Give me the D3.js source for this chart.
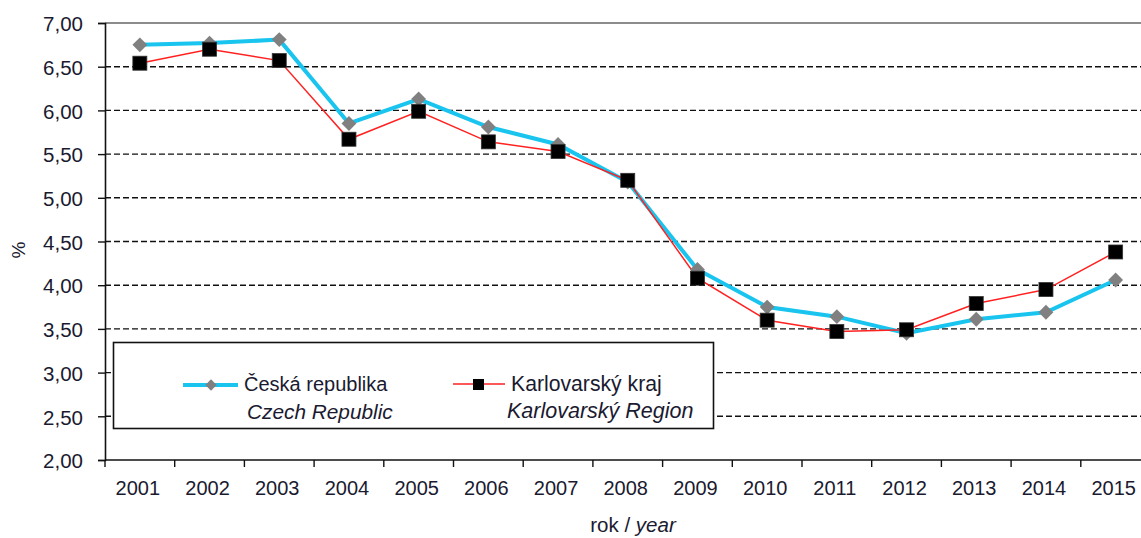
<!DOCTYPE html>
<html><head><meta charset="utf-8">
<script src="https://cdn.jsdelivr.net/npm/d3@7"></script>
<style>body{margin:0;background:#fff}svg{display:block;font-family:"Liberation Sans",Arial,sans-serif}</style>
</head><body><svg id="c" width="1141" height="538"></svg>
<script>
const years = ["2001","2002","2003","2004","2005","2006","2007","2008","2009","2010","2011","2012","2013","2014","2015"];
const czech = [6.75,6.77,6.81,5.85,6.13,5.81,5.61,5.18,4.18,3.75,3.64,3.45,3.61,3.69,4.06];
const karlovy = [6.54,6.70,6.57,5.67,5.99,5.64,5.53,5.20,4.08,3.60,3.47,3.49,3.79,3.95,4.38];
const yTicks = [2.0,2.5,3.0,3.5,4.0,4.5,5.0,5.5,6.0,6.5,7.0];

const svg = d3.select("#c");
const L = 105, R = 1150.5, T = 23, B = 460;
const FONT = "Liberation Sans, Arial, sans-serif";
const TXT = "#1a1a30";
const x = d3.scaleBand().domain(years).range([L, R]);
const y = d3.scaleLinear().domain([2, 7]).range([B, T]);
const fmt = v => d3.format(".2f")(v).replace(".", ",");

// gridlines
svg.append("g").selectAll("line").data(yTicks.filter(v => v > 2 && v < 7)).join("line")
  .attr("x1", L).attr("x2", R).attr("y1", d => y(d)).attr("y2", d => y(d))
  .attr("stroke", "#111").attr("stroke-width", 1.4).attr("stroke-dasharray", "6,3");
// top border
svg.append("line").attr("x1", L).attr("x2", R).attr("y1", T).attr("y2", T).attr("stroke", "#666").attr("stroke-width", 1.4);

// y axis
const ya = svg.append("g").attr("transform", `translate(${L},0)`)
  .call(d3.axisLeft(y).tickValues(yTicks).tickFormat(fmt).tickSize(7).tickPadding(15));
ya.select(".domain").attr("stroke", "#111").attr("stroke-width", 1.6);
ya.selectAll(".tick line").attr("stroke", "#111").attr("stroke-width", 1.4);
ya.selectAll("text").attr("font-size", 20.5).attr("fill", TXT).attr("font-family", FONT).attr("dy", "0.38em");

// x axis
const xa = svg.append("g").attr("transform", `translate(0,${B})`)
  .call(d3.axisBottom(x).tickSize(0).tickPadding(21));
xa.select(".domain").remove();
xa.selectAll("text").attr("font-size", 20).attr("fill", TXT).attr("font-family", FONT).attr("dx", -2);
svg.append("line").attr("x1", L).attr("x2", R).attr("y1", B).attr("y2", B).attr("stroke", "#111").attr("stroke-width", 1.6);
svg.append("g").selectAll("line").data(years).join("line")
  .attr("x1", d => x(d)).attr("x2", d => x(d)).attr("y1", B).attr("y2", B + 7)
  .attr("stroke", "#111").attr("stroke-width", 1.4);

// axis titles
svg.append("text").attr("transform", "translate(25,250) rotate(-90)").attr("text-anchor", "middle")
  .attr("font-size", 19).attr("fill", TXT).text("%");
const xt = svg.append("text").attr("x", 633).attr("y", 532).attr("text-anchor", "middle")
  .attr("font-size", 20.5).attr("fill", TXT);
xt.append("tspan").text("rok / ");
xt.append("tspan").attr("font-style", "italic").text("year");

const cx = d => x(d) + x.bandwidth() / 2;
const line = d3.line().x((d, i) => cx(years[i])).y(d => y(d));

// legend box
svg.append("rect").attr("x", 113.5).attr("y", 342.5).attr("width", 600).attr("height", 86)
  .attr("fill", "#fff").attr("stroke", "#111").attr("stroke-width", 1.6);

// series
svg.append("path").datum(czech).attr("d", line).attr("fill", "none").attr("stroke", "#19c4ee").attr("stroke-width", 4);
svg.append("path").datum(karlovy).attr("d", line).attr("fill", "none").attr("stroke", "#ff2020").attr("stroke-width", 1.5);

const diamond = (g, px, py, s) => g.append("rect").attr("x", -s/2).attr("y", -s/2).attr("width", s).attr("height", s)
  .attr("transform", `translate(${px},${py}) rotate(45)`).attr("fill", "#808080");
const czG = svg.append("g");
czech.forEach((v, i) => diamond(czG, cx(years[i]), y(v), 10.5));
svg.append("g").selectAll("rect").data(karlovy).join("rect")
  .attr("x", (d, i) => cx(years[i]) - 7).attr("y", d => y(d) - 7).attr("width", 14).attr("height", 14)
  .attr("fill", "#000").attr("stroke", "#333").attr("stroke-width", 0.8);

// legend contents
svg.append("line").attr("x1", 183).attr("x2", 238).attr("y1", 385).attr("y2", 385).attr("stroke", "#19c4ee").attr("stroke-width", 4);
diamond(svg, 211, 385, 8);
svg.append("text").attr("x", 244).attr("y", 391).attr("font-size", 20).attr("fill", TXT).text("Česká republika");
svg.append("text").attr("x", 247).attr("y", 419).attr("font-size", 20.8).attr("font-style", "italic").attr("fill", TXT).text("Czech Republic");
svg.append("line").attr("x1", 453).attr("x2", 505).attr("y1", 384).attr("y2", 384).attr("stroke", "#ff2020").attr("stroke-width", 1.5);
svg.append("rect").attr("x", 473).attr("y", 379).attr("width", 11).attr("height", 11).attr("fill", "#000");
svg.append("text").attr("x", 511).attr("y", 391).attr("font-size", 21.2).attr("fill", TXT).text("Karlovarský kraj");
svg.append("text").attr("x", 507).attr("y", 418).attr("font-size", 21.5).attr("font-style", "italic").attr("fill", TXT).text("Karlovarský Region");
</script></body></html>
